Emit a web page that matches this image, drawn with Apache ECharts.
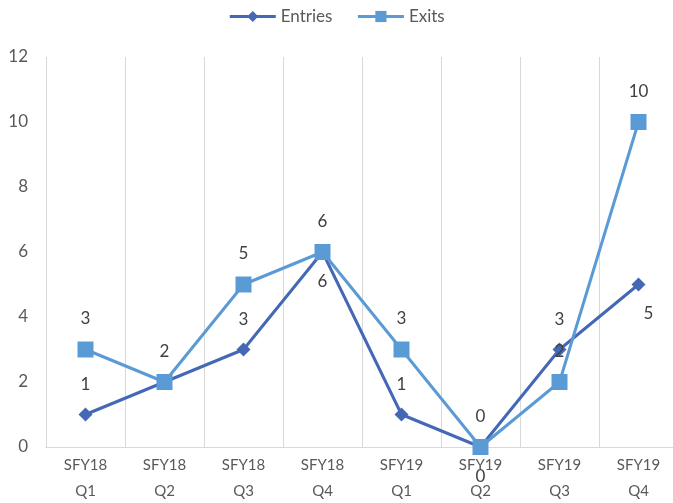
<!DOCTYPE html>
<html><head><meta charset="utf-8">
<script src="https://cdn.jsdelivr.net/npm/echarts@6/dist/echarts.min.js"></script>
<style>html,body{margin:0;padding:0;background:#fff}#c{width:673px;height:503px}</style>
</head><body><div id="c"></div>
<script>
const categories = ["SFY18\nQ1","SFY18\nQ2","SFY18\nQ3","SFY18\nQ4","SFY19\nQ1","SFY19\nQ2","SFY19\nQ3","SFY19\nQ4"];
const entries = [1,2,3,6,1,0,3,5];
const exits = [3,2,5,6,3,0,2,10];
const entryLabelPos = ["top","none","top","bottom","top","bottom","top","right"];
const yTicks = {min:0,max:12,interval:2};

const font = "Lato, 'Open Sans', sans-serif";
const chart = echarts.init(document.getElementById('c'));
const lbl = {fontSize:17, color:'#404040', fontFamily:font};
chart.setOption({
  animation:false,
  legend:{top:3,left:'center',itemWidth:46,itemHeight:14,itemGap:24,
    lineStyle:{width:3},
    textStyle:{fontSize:17,color:'#595959',fontFamily:font},
    data:['Entries','Exits']},
  grid:{left:46,top:57,right:-5,bottom:56,containLabel:false,outerBoundsMode:'none'},
  xAxis:{type:'category',data:categories,boundaryGap:true,
    axisLine:{lineStyle:{color:'#d9d9d9'}},axisTick:{show:false},
    splitLine:{show:true,lineStyle:{color:'#d9d9d9'}},
    axisLabel:{interval:0,fontSize:15,color:'#595959',fontFamily:font,lineHeight:26,margin:5}},
  yAxis:{type:'value',min:yTicks.min,max:yTicks.max,interval:yTicks.interval,
    axisLine:{show:false},axisTick:{show:false},splitLine:{show:false},
    axisLabel:{fontSize:17,color:'#595959',fontFamily:font,margin:18}},
  series:[
    {name:'Entries',type:'line',data:entries.map((v,i)=>{
        const p=entryLabelPos[i];
        const o={value:v,label:{position:(p==='right'||p==='none')?'bottom':p}};
        if(p==='right'){o.label.offset=[10,0];}
        if(p==='none'){o.label.show=false;}
        return o;}),
     symbol:'diamond',symbolSize:14,color:'#4468B5',
     lineStyle:{width:3,color:'#4468B5'},itemStyle:{color:'#4468B5'},
     label:{show:true,distance:14,...lbl},z:2},
    {name:'Exits',type:'line',data:exits,symbol:'rect',symbolSize:16,color:'#5B9BD5',
     lineStyle:{width:3,color:'#5B9BD5'},itemStyle:{color:'#5B9BD5'},
     label:{show:true,position:'top',distance:14,...lbl},z:3}
  ]
});
</script></body></html>
